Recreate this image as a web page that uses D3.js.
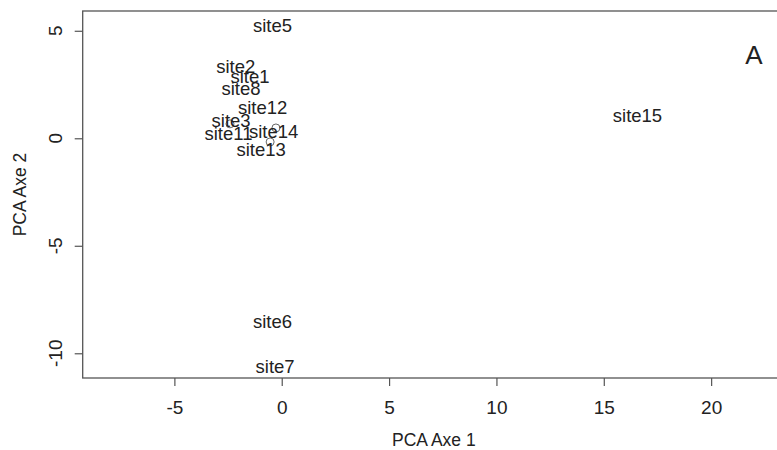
<!DOCTYPE html>
<html>
<head>
<meta charset="utf-8">
<script src="https://cdn.jsdelivr.net/npm/d3@7"></script>
<style>
  html, body { margin: 0; padding: 0; background: #fff; }
  svg { display: block; font-family: "Liberation Sans", Arial, sans-serif; }
</style>
</head>
<body>
<svg id="chart" width="777" height="450"></svg>
<script>
// PCA site scores (first two axes)
const siteLabels = ["site1", "site2", "site3", "site5", "site6", "site7", "site8",
                    "site11", "site12", "site13", "site14", "site15"];
const axis1Scores = [-1.48, -2.14, -2.36, -0.43, -0.43, -0.31, -1.90, -2.48, -0.89, -0.96, -0.38, 16.57];
const axis2Scores = [2.87, 3.36, 0.83, 5.27, -8.52, -10.59, 2.34, 0.25, 1.43, -0.52, 0.32, 1.06];

// unlabelled sites shown as open circles
const pointAxis1 = [-2.41, -0.27, -0.54];
const pointAxis2 = [0.67, 0.48, -0.17];

const xTicks = [-5, 0, 5, 10, 15, 20];
const yTicks = [-10, -5, 0, 5];
const xDomain = [-9.27, 23.44];
const yDomain = [-11.15, 5.92];

const svg = d3.select("#chart");
const box = { left: 82.7, right: 785, top: 11, bottom: 378 };

const x = d3.scaleLinear().domain(xDomain).range([box.left, box.right]);
const y = d3.scaleLinear().domain(yDomain).range([box.bottom, box.top]);

const ink = "#222";
const lineCol = "#555";

// plot frame
svg.append("rect")
  .attr("x", box.left).attr("y", box.top)
  .attr("width", box.right - box.left).attr("height", box.bottom - box.top)
  .attr("fill", "none").attr("stroke", lineCol).attr("stroke-width", 1.3);

// x axis
const xAxis = svg.append("g")
  .attr("transform", `translate(0,${box.bottom})`)
  .call(d3.axisBottom(x).tickValues(xTicks).tickSize(8).tickPadding(15)
        .tickFormat(d3.format("d")));
xAxis.select(".domain").remove();
xAxis.selectAll("line").attr("stroke", lineCol).attr("stroke-width", 1.2);
xAxis.selectAll("text")
  .attr("font-size", 19).attr("fill", ink)
  .attr("font-family", "Liberation Sans, Arial, sans-serif")
  .text(d => d < 0 ? "-" + Math.abs(d) : d);

// y axis with labels parallel to the axis
const yAxis = svg.append("g")
  .attr("transform", `translate(${box.left},0)`)
  .call(d3.axisLeft(y).tickValues(yTicks).tickSize(8).tickFormat(""));
yAxis.select(".domain").remove();
yAxis.selectAll("line").attr("stroke", lineCol).attr("stroke-width", 1.2);

svg.append("g").selectAll("text")
  .data(yTicks)
  .join("text")
  .attr("transform", d => `translate(${55},${y(d)}) rotate(-90)`)
  .attr("text-anchor", "middle")
  .attr("dy", "0.36em")
  .attr("font-size", 19).attr("fill", ink)
  .text(d => d < 0 ? "-" + Math.abs(d) : d);

// axis titles
svg.append("text")
  .attr("x", (box.left + box.right) / 2).attr("y", 440)
  .attr("dy", "0.36em")
  .attr("text-anchor", "middle")
  .attr("font-size", 17.5).attr("fill", ink)
  .text("PCA Axe 1");

svg.append("text")
  .attr("transform", `translate(20,${(box.top + box.bottom) / 2}) rotate(-90)`)
  .attr("text-anchor", "middle")
  .attr("dy", "0.36em")
  .attr("font-size", 17.5).attr("fill", ink)
  .text("PCA Axe 2");

// open circles
svg.append("g").selectAll("circle")
  .data(pointAxis1.map((v, i) => [v, pointAxis2[i]]))
  .join("circle")
  .attr("cx", d => x(d[0])).attr("cy", d => y(d[1]))
  .attr("r", 4)
  .attr("fill", "none").attr("stroke", "#666").attr("stroke-width", 1);

// site labels centred on their scores
svg.append("g").selectAll("text")
  .data(siteLabels.map((s, i) => ({ s, a1: axis1Scores[i], a2: axis2Scores[i] })))
  .join("text")
  .attr("x", d => x(d.a1)).attr("y", d => y(d.a2))
  .attr("dy", "0.36em")
  .attr("text-anchor", "middle")
  .attr("font-size", 18.5).attr("fill", ink)
  .text(d => d.s);

// panel letter
svg.append("text")
  .attr("x", 754).attr("y", 55)
  .attr("dy", "0.36em")
  .attr("text-anchor", "middle")
  .attr("font-size", 26).attr("fill", ink)
  .text("A");
</script>
</body>
</html>
